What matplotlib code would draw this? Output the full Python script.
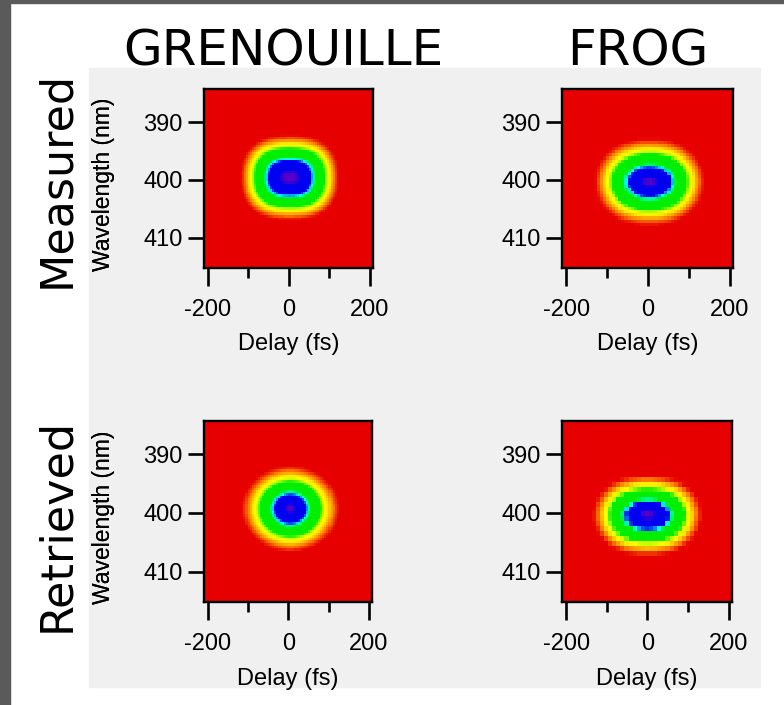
import numpy as np
import matplotlib
matplotlib.use('Agg')
import matplotlib.pyplot as plt
from matplotlib.colors import LinearSegmentedColormap
from matplotlib.patches import Rectangle

W, H = 784, 705

col_titles = ['GRENOUILLE', 'FROG']
row_titles = ['Measured', 'Retrieved']

# spot parameters (order: GR meas, FROG meas, GR retr, FROG retr)
t0 = [2, 4, 5, 0]                       # delay centre (fs)
lam0 = [399.6, 400.35, 399.3, 400.4]    # wavelength centre (nm)
sig_t = [57, 57, 45, 57]                # delay width (fs)
sig_lam = [3.2, 2.8, 2.74, 2.6]         # wavelength width (nm)
p_t = [2.6, 2.3, 2.0, 2.3]              # super-gaussian order in delay
p_lam = [2.4, 2.0, 2.0, 2.0]            # super-gaussian order in wavelength
dt = [5, 7.5, 5, 10]                    # trace pixel size (fs)
dlam = [0.45, 0.55, 0.45, 0.85]         # trace pixel size (nm)

xticks = [-200, 0, 200]
xtick_labels = ['-200', '0', '200']
xminor = [-100, 100]
yticks = [390, 400, 410]

# frame boxes in pixels (left, top, right, bottom)
boxes = [(204, 89, 373, 268), (562, 89, 733, 268),
         (204, 421, 372, 602), (562, 421, 732, 602)]

cmap = LinearSegmentedColormap.from_list('igor_rainbow', [
    (0.0, '#e60000'), (0.025, '#e60000'), (0.06, '#ff7a00'), (0.11, '#ffe600'),
    (0.15, '#ffff00'), (0.19, '#a0ff00'), (0.24, '#00ee00'), (0.52, '#00ee00'),
    (0.61, '#00ffff'), (0.69, '#0000f0'), (0.95, '#0000f0'), (1.0, '#5a00c8')])

tick_font = 'Liberation Sans'
title_font = 'DejaVu Sans'

fig = plt.figure(figsize=(W / 100, H / 100), dpi=100)
fig.patch.set_facecolor('white')

# background panels
for rect in [Rectangle((89 / W, 1 - 687 / H), (760 - 89) / W, (687 - 68) / H, color='#f0f0f0'),
             Rectangle((0, 0), 10 / W, 1, color='#5a5a5a'),
             Rectangle((0, 1 - 3 / H), 1, 3 / H, color='#5a5a5a')]:
    rect.set_transform(fig.transFigure)
    rect.set_zorder(-5)
    fig.patches.append(rect)

xlim = (-210, 208)
ylim = (415.2, 384.3)

for i, (l, t, r, b) in enumerate(boxes):
    ax = fig.add_axes([l / W, 1 - b / H, (r - l) / W, (b - t) / H])
    ax.set_facecolor('white')

    nx = int(round(412 / dt[i]))
    ny = int(round(30.6 / dlam[i]))
    te = np.linspace(-207, 205, nx + 1)
    le = np.linspace(384.5, 415.0, ny + 1)
    tc = 0.5 * (te[1:] + te[:-1])
    lc = 0.5 * (le[1:] + le[:-1])
    T, L = np.meshgrid(tc, lc)
    g = np.exp(-0.5 * np.abs((T - t0[i]) / sig_t[i]) ** p_t[i]
               - 0.5 * np.abs((L - lam0[i]) / sig_lam[i]) ** p_lam[i])
    ax.imshow(g, extent=[te[0], te[-1], le[-1], le[0]], origin='upper',
              aspect='auto', cmap=cmap, vmin=0, vmax=1, interpolation='nearest')

    ax.set_xlim(*xlim)
    ax.set_ylim(*ylim)
    for s in ax.spines.values():
        s.set_linewidth(1.7)
        s.set_color('black')
    ax.set_xticks(xticks, labels=xtick_labels)
    ax.set_xticks(xminor, minor=True)
    ax.set_yticks(yticks)
    ax.tick_params(axis='x', which='major', direction='out', length=13, width=1.9,
                   pad=9, labelsize=17)
    ax.tick_params(axis='x', which='minor', direction='out', length=7, width=1.9)
    ax.tick_params(axis='y', which='major', direction='out', length=11.5, width=1.9,
                   pad=4, labelsize=17)
    for lab in ax.get_xticklabels() + ax.get_yticklabels():
        lab.set_fontfamily(tick_font)

    ax.set_xlabel('Delay (fs)', fontsize=17, fontfamily=tick_font)
    ax.set_ylabel('Wavelength (nm)', fontsize=16.5, fontfamily=tick_font)
    ax.xaxis.set_label_coords(0.5, -(333 - 268) / 179)
    ax.yaxis.set_label_coords(-(l - 115) / (r - l), 0.47)

# column and row titles
for cx, txt in zip([283, 638], col_titles):
    fig.text(cx / W, 1 - 65 / H, txt, ha='center', va='baseline',
             fontsize=36, fontfamily=title_font)
for cy, txt in zip([179, 525], row_titles):
    fig.text(57 / W, 1 - cy / H, txt, ha='center', va='center', rotation=90,
             fontsize=32, fontfamily=title_font)

fig.savefig('out.png', dpi=100)
